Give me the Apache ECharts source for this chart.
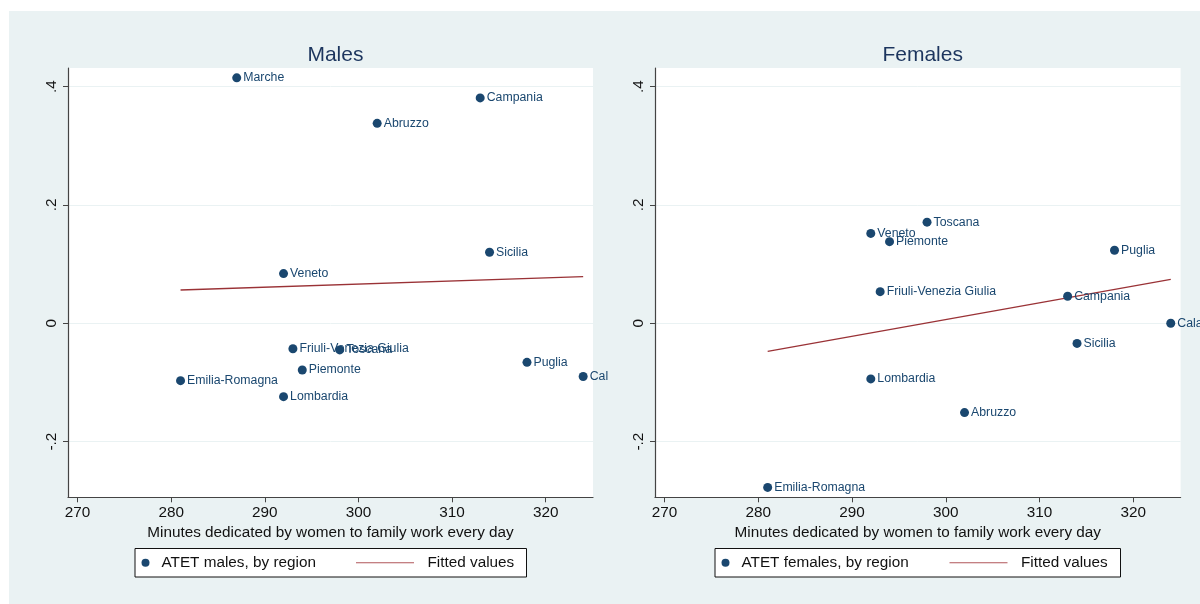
<!DOCTYPE html>
<html>
<head>
<meta charset="utf-8">
<title>ATET by region vs. minutes of family work</title>
<script src="https://cdn.jsdelivr.net/npm/echarts@6/dist/echarts.min.js"></script>
<style>
  html, body { margin: 0; padding: 0; background: #ffffff; }
  #chart { width: 1200px; height: 604px; }
</style>
</head>
<body>
<div id="chart"></div>
<script>
// Regions and the daily minutes women spend on family work (x)
const maleRegions   = ['Marche', 'Campania', 'Abruzzo', 'Sicilia', 'Veneto', 'Friuli-Venezia Giulia', 'Toscana', 'Puglia', 'Calabria', 'Piemonte', 'Emilia-Romagna', 'Lombardia'];
const maleMinutes   = [287, 313, 302, 314, 292, 293, 298, 318, 324, 294, 281, 292];
const maleAtet      = [0.415, 0.381, 0.338, 0.120, 0.084, -0.043, -0.045, -0.066, -0.090, -0.079, -0.097, -0.124];

const femaleRegions = ['Toscana', 'Veneto', 'Piemonte', 'Puglia', 'Friuli-Venezia Giulia', 'Campania', 'Calabria', 'Sicilia', 'Lombardia', 'Abruzzo', 'Emilia-Romagna'];
const femaleMinutes = [298, 292, 294, 318, 293, 313, 324, 314, 292, 302, 281];
const femaleAtet    = [0.171, 0.152, 0.138, 0.1235, 0.0535, 0.0457, 0.000, -0.034, -0.094, -0.151, -0.2775];

// Fitted values (end points of the linear fit)
const maleFitX   = [281, 324];
const maleFitY   = [0.0563, 0.0789];
const femaleFitX = [281, 324];
const femaleFitY = [-0.0474, 0.0744];

// Tick labels
const xTicks = [270, 280, 290, 300, 310, 320];
const yTicks = [-0.2, 0, 0.2, 0.4];

const NAVY = '#1a476f';
const MAROON = '#9a3236';
const PANEL = '#eaf2f3';
const FONT = '"Liberation Sans", Arial, Helvetica, sans-serif';

function points(xs, ys, names) {
  return xs.map((x, i) => ({ name: names[i], value: [x, ys[i]] }));
}
function stataNum(v) {
  if (v === 0) return '0';
  const s = String(Math.abs(v)).replace(/^0/, '');
  return (v < 0 ? '-' : '') + s;
}

function xAxis(gridIndex) {
  return {
    type: 'value', gridIndex, min: 268.98, max: 325.05,
    name: 'Minutes dedicated by women to family work every day',
    nameLocation: 'middle', nameGap: 26,
    nameTextStyle: { color: '#111', fontSize: 15.3, fontFamily: FONT },
    axisLine: { show: true, onZero: false, lineStyle: { color: '#444', width: 1.2 } },
    axisTick: { show: true, length: 5, customValues: xTicks, lineStyle: { color: '#444' } },
    axisLabel: { customValues: xTicks, color: '#111', fontSize: 15.3, fontFamily: FONT, margin: 8 },
    splitLine: { show: false }
  };
}
function yAxis(gridIndex) {
  return {
    type: 'value', gridIndex, min: -0.2942, max: 0.4316,
    axisLine: { show: true, onZero: false, lineStyle: { color: '#444', width: 1.2 } },
    axisTick: { show: true, length: 5, customValues: yTicks, lineStyle: { color: '#444' } },
    axisLabel: { customValues: yTicks, rotate: 90, color: '#111', fontSize: 15.3, fontFamily: FONT, margin: 9,
                 formatter: stataNum },
    splitLine: { show: true, lineStyle: { color: PANEL, width: 1 } }
  };
}
// Point labels; the one named in clipName is cut off where the next panel begins
function scatter(idx, data, clipName) {
  return {
    type: 'scatter', xAxisIndex: idx, yAxisIndex: idx, z: 4,
    symbol: 'circle', symbolSize: 9,
    itemStyle: { color: NAVY, opacity: 1 },
    label: { show: true, position: 'right', distance: 2, formatter: '{b}',
             color: NAVY, fontSize: 12.3, fontFamily: FONT },
    data: data.map(d => d.name === clipName
      ? Object.assign({}, d, { label: { width: 20, overflow: 'truncate', ellipsis: '' } })
      : d)
  };
}
function fit(idx, xs, ys) {
  return {
    type: 'line', xAxisIndex: idx, yAxisIndex: idx, z: 3,
    symbol: 'none', silent: true,
    lineStyle: { color: MAROON, width: 1.3 },
    data: xs.map((x, i) => [x, ys[i]])
  };
}
function legendBox(x, label) {
  const y = 548.5, h = 28.5, cy = y + h / 2;
  const w = label.width;
  return [
    { type: 'rect', shape: { x, y, width: w, height: h }, style: { fill: '#fff', stroke: '#111', lineWidth: 1 } },
    { type: 'circle', shape: { cx: x + 10.5, cy, r: 4 }, style: { fill: NAVY } },
    { type: 'text', x: x + 26.5, y: cy, style: { text: label.marker, fill: '#111', font: '15.3px ' + FONT, verticalAlign: 'middle' } },
    { type: 'line', shape: { x1: x + label.line, y1: cy, x2: x + label.line + 58, y2: cy }, style: { stroke: '#b0565a', lineWidth: 1 } },
    { type: 'text', x: x + label.line + 71.5, y: cy, style: { text: 'Fitted values', fill: '#111', font: '15.3px ' + FONT, verticalAlign: 'middle' } }
  ];
}

const chart = echarts.init(document.getElementById('chart'), null, { renderer: 'canvas' });
chart.setOption({
  animation: false,
  backgroundColor: PANEL,
  title: [
    { text: 'Males', left: 330.4, top: 40, textAlign: 'center',
      textStyle: { color: '#1c355e', fontSize: 21, fontWeight: 'normal', fontFamily: FONT } },
    { text: 'Females', left: 917.7, top: 40, textAlign: 'center',
      textStyle: { color: '#1c355e', fontSize: 21, fontWeight: 'normal', fontFamily: FONT } }
  ],
  grid: [
    { left: 68, right: 607, top: 68, bottom: 106.7, show: true, backgroundColor: '#fff', borderWidth: 0 },
    { left: 655, right: 19.4, top: 68, bottom: 106.7, show: true, backgroundColor: '#fff', borderWidth: 0 }
  ],
  xAxis: [xAxis(0), xAxis(1)],
  yAxis: [yAxis(0), yAxis(1)],
  series: [
    scatter(0, points(maleMinutes, maleAtet, maleRegions), 'Calabria'),
    fit(0, maleFitX, maleFitY),
    scatter(1, points(femaleMinutes, femaleAtet, femaleRegions), null),
    fit(1, femaleFitX, femaleFitY)
  ],
  graphic: [
    // white page margin around the figure panel
    { type: 'rect', shape: { x: 0, y: 0, width: 1200, height: 11 }, style: { fill: '#fff' }, z: -1 },
    { type: 'rect', shape: { x: 0, y: 0, width: 9, height: 604 }, style: { fill: '#fff' }, z: -1 },
    ...legendBox(135, { width: 391.5, marker: 'ATET males, by region', line: 221 }),
    ...legendBox(715, { width: 405.5, marker: 'ATET females, by region', line: 234.5 })
  ]
});
</script>
</body>
</html>
